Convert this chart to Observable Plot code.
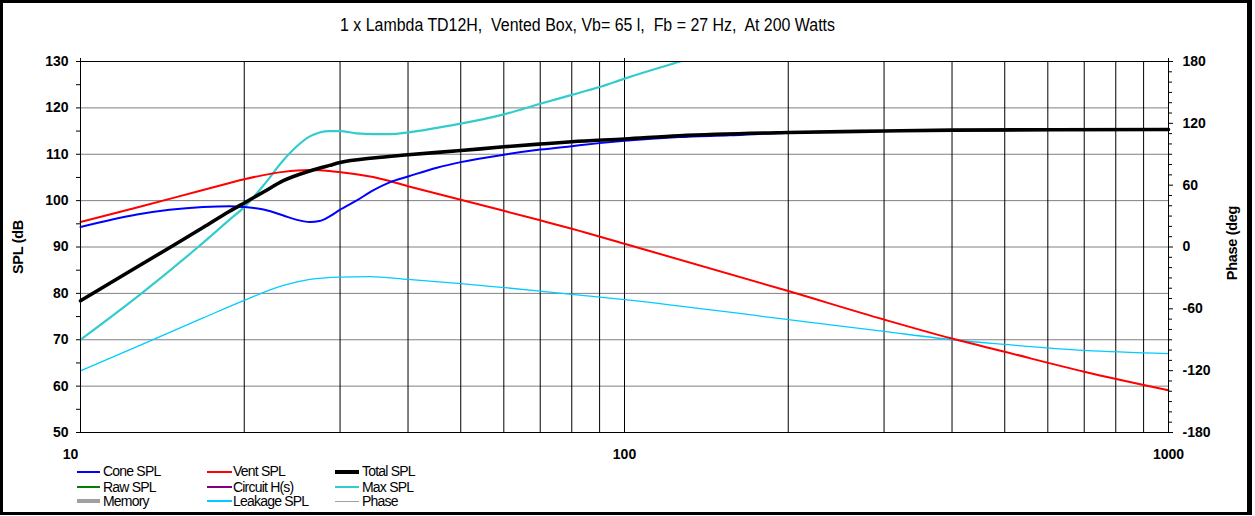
<!DOCTYPE html>
<html>
<head>
<meta charset="utf-8">
<script src="https://cdn.jsdelivr.net/npm/d3@7"></script>
<script src="https://cdn.jsdelivr.net/npm/@observablehq/plot@0.6"></script>
<style>
  html, body { margin: 0; padding: 0; background: white; }
  #wrap { position: relative; width: 1255px; height: 516px; overflow: hidden; font-family: Arial, "Liberation Sans", sans-serif; }
  #border { position: absolute; left: 0; top: 0; width: 1252px; height: 515px; box-sizing: border-box;
            border: 3px solid black; border-right-width: 5px; pointer-events: none; z-index: 10; }
  #title { display: block; height: 40px; }
  #chart svg { display: block; }
  .ytitle { position: absolute; height: 18px; line-height: 18px; white-space: nowrap; text-align: center;
            font-weight: bold; font-size: 14.5px; transform: rotate(-90deg); z-index: 5; letter-spacing: -0.3px; }
  #legend { position: relative; height: 49px; font-size: 14px; letter-spacing: -0.8px; }
  .li { position: absolute; white-space: nowrap; line-height: 14px; }
  .ls { position: absolute; }
</style>
</head>
<body>
<div id="wrap">
  <div id="border"></div>
  <svg id="title" width="1255" height="40">
    <text x="587.5" y="31" text-anchor="middle" font-size="17.5" font-family="Arial, 'Liberation Sans', sans-serif"
          style="white-space:pre" textLength="495" lengthAdjust="spacingAndGlyphs">1 x Lambda TD12H,  Vented Box, Vb= 65 l,  Fb = 27 Hz,  At 200 Watts</text>
  </svg>
  <div id="chart"></div>
  <div id="legend"></div>
  <div class="ytitle" style="left:-22px; top:238px; width:80px;">SPL (dB</div>
  <div class="ytitle" style="left:1192px; top:234px; width:80px;">Phase (deg</div>
</div>
<script>
// ---- data ----
const coneFreq = [10, 12.7, 16.8, 18.8, 20, 21.7, 23.6, 24.9, 26.4, 27.5, 28.7, 30, 32.2, 34.5, 37.1, 40, 45.2, 50, 60, 70, 80, 90, 100, 126, 156, 200, 300, 500, 1000];
const coneSPL  = [94.3, 97.0, 98.6, 98.8, 98.6, 98.1, 96.8, 95.9, 95.4, 95.6, 96.6, 98.05, 100.05, 102.2, 104.0, 105.2, 107.1, 108.3, 109.9, 111.0, 111.75, 112.4, 112.9, 113.7, 114.1, 114.65, 115.0, 115.2, 115.35];

const ventFreq = [10, 12.7, 16.8, 18.8, 20, 21.7, 23.6, 26.4, 28.7, 30, 34.5, 40, 50, 60, 70, 80, 100, 200, 300, 400, 500, 700, 1000];
const ventSPL  = [95.4, 98.5, 102.3, 103.8, 104.6, 105.5, 106.2, 106.6, 106.4, 106.15, 105.1, 103.1, 100.2, 97.8, 95.75, 93.95, 90.7, 80.5, 74.35, 70.25, 67.4, 63.1, 59.1];

const totalFreq = [10, 12.5, 14.6, 16.8, 18.8, 20, 21.7, 23.6, 26.4, 28.7, 30, 34.5, 40, 50, 60, 70, 80, 100, 126, 200, 300, 400, 1000];
const totalSPL  = [78.4, 85.2, 89.9, 94.2, 97.7, 99.5, 101.85, 104.3, 106.4, 107.6, 108.2, 109.2, 109.9, 110.8, 111.6, 112.2, 112.7, 113.3, 114.0, 114.7, 115.0, 115.2, 115.35];

const maxFreq = [10, 12.95, 16.45, 18.8, 20, 21.7, 23.6, 24.9, 26.4, 27.5, 28.7, 30, 32.2, 34.5, 37.1, 40, 45.2, 50, 60, 70, 80, 90, 100, 126.5, 140];
const maxSPL  = [70, 80, 90, 95.9, 98.6, 103.3, 108.7, 111.55, 113.85, 114.7, 115.0, 115.0, 114.5, 114.35, 114.35, 114.7, 115.7, 116.6, 118.6, 120.9, 122.8, 124.5, 126.3, 130, 131.6];

const leakFreq = [10, 12.7, 16.8, 20, 23.6, 26.4, 30, 34, 40, 50, 60, 70, 80, 100, 200, 300, 400, 500, 700, 1000];
const leakSPL  = [63.3, 68.5, 74.7, 78.5, 81.7, 83.0, 83.5, 83.6, 83.0, 82.1, 81.25, 80.5, 79.8, 78.65, 74.35, 71.8, 70.0, 69.0, 67.7, 67.0];

const splTicks = [50, 60, 70, 80, 90, 100, 110, 120, 130];
const splMinor = [55, 65, 75, 85, 95, 105, 115, 125];
const phaseTicks = [-180, -120, -60, 0, 60, 120, 180];
const phaseMinor = d3.range(-170, 180, 10).filter(p => p % 60 !== 0);
const freqTicks = [10, 100, 1000];
const freqGrid = [20, 30, 40, 50, 60, 70, 80, 90, 200, 300, 400, 500, 600, 700, 800, 900];
const splGrid = [60, 70, 80, 90, 100, 110, 120];

const legendItems = [
  {name: "Cone SPL", color: "#0000ff", w: 2, col: 0, row: 0},
  {name: "Raw SPL", color: "#008000", w: 2, col: 0, row: 1},
  {name: "Memory", color: "#a0a0a0", w: 4, col: 0, row: 2},
  {name: "Vent SPL", color: "#ff0000", w: 2, col: 1, row: 0},
  {name: "Circuit H(s)", color: "#800080", w: 2, col: 1, row: 1},
  {name: "Leakage SPL", color: "#00ccff", w: 1.5, col: 1, row: 2},
  {name: "Total SPL", color: "#000000", w: 4, col: 2, row: 0},
  {name: "Max SPL", color: "#33cccc", w: 2, col: 2, row: 1},
  {name: "Phase", color: "#a0a0a0", w: 1, col: 2, row: 2}
];

// ---- helpers ----
const rows = (fs, vs) => fs.map((f, i) => ({f, v: vs[i]}));
const toY = p => 50 + (p + 180) * 80 / 360;
const fromY = y => Math.round((y - 50) * 360 / 80 - 180);

const chart = Plot.plot({
  width: 1255,
  height: 427,
  marginTop: 21,
  marginBottom: 35,
  marginLeft: 80,
  marginRight: 87,
  x: {type: "log", domain: [10, 1000]},
  y: {domain: [50, 130]},
  style: {fontFamily: "Arial, 'Liberation Sans', sans-serif", fontSize: "14px", fontWeight: "bold", color: "black", background: "white", overflow: "visible"},
  marks: [
    Plot.ruleY(splGrid, {stroke: "#808080", strokeWidth: 1}),
    Plot.ruleX(freqGrid, {stroke: "#000", strokeWidth: 1}),
    Plot.ruleX(freqTicks, {stroke: "#000", strokeWidth: 1}),
    Plot.line(rows(leakFreq, leakSPL), {x: "f", y: "v", stroke: "#00ccff", strokeWidth: 1.3, curve: "monotone-x"}),
    Plot.line(rows(maxFreq, maxSPL), {x: "f", y: "v", stroke: "#33cccc", strokeWidth: 2.2, curve: "monotone-x", clip: true}),
    Plot.line(rows(ventFreq, ventSPL), {x: "f", y: "v", stroke: "#ff0000", strokeWidth: 2, curve: "monotone-x"}),
    Plot.line(rows(coneFreq, coneSPL), {x: "f", y: "v", stroke: "#0000ff", strokeWidth: 2, curve: "monotone-x"}),
    Plot.line(rows(totalFreq, totalSPL), {x: "f", y: "v", stroke: "#000000", strokeWidth: 3.6, curve: "monotone-x"}),
    Plot.frame({stroke: "#000", strokeWidth: 1}),
    Plot.axisY({anchor: "left", ticks: splTicks, tickSize: 4, tickPadding: 8, tickFormat: d => String(d), label: null}),
    Plot.axisY({anchor: "left", ticks: splMinor, tickSize: 4, tickFormat: () => "", label: null}),
    Plot.axisY({anchor: "right", ticks: phaseTicks.map(toY), tickSize: 4, tickPadding: 10, tickFormat: d => String(fromY(d)), label: null}),
    Plot.axisY({anchor: "right", ticks: phaseMinor.map(toY), tickSize: 3, tickFormat: () => "", label: null}),
    Plot.axisX({anchor: "bottom", ticks: [100, 1000], tickSize: 0, tickPadding: 17, tickFormat: d => String(d), label: null}),
    Plot.axisX({anchor: "bottom", ticks: [10], tickSize: 0, tickPadding: 17, dx: -10, tickFormat: d => String(d), label: null}),
    Plot.axisX({anchor: "top", ticks: freqTicks, tickSize: 4, tickFormat: () => "", label: null})
  ]
});
document.getElementById("chart").appendChild(chart);

// ---- legend ----
const colLine = [[77, 100, 103], [207, 232, 233], [335, 359, 362]];
const rowY = [4.7, 20.3, 34];
const leg = document.getElementById("legend");
for (const it of legendItems) {
  const [x0, x1, tx] = colLine[it.col];
  const cy = rowY[it.row];
  const s = document.createElement("div");
  s.className = "ls";
  s.style.left = x0 + "px";
  s.style.width = (x1 - x0) + "px";
  s.style.top = (cy - it.w / 2) + "px";
  s.style.height = it.w + "px";
  s.style.background = it.color;
  leg.appendChild(s);
  const t = document.createElement("div");
  t.className = "li";
  t.style.left = tx + "px";
  t.style.top = (cy - 7.5) + "px";
  t.textContent = it.name;
  leg.appendChild(t);
}
</script>
</body>
</html>
